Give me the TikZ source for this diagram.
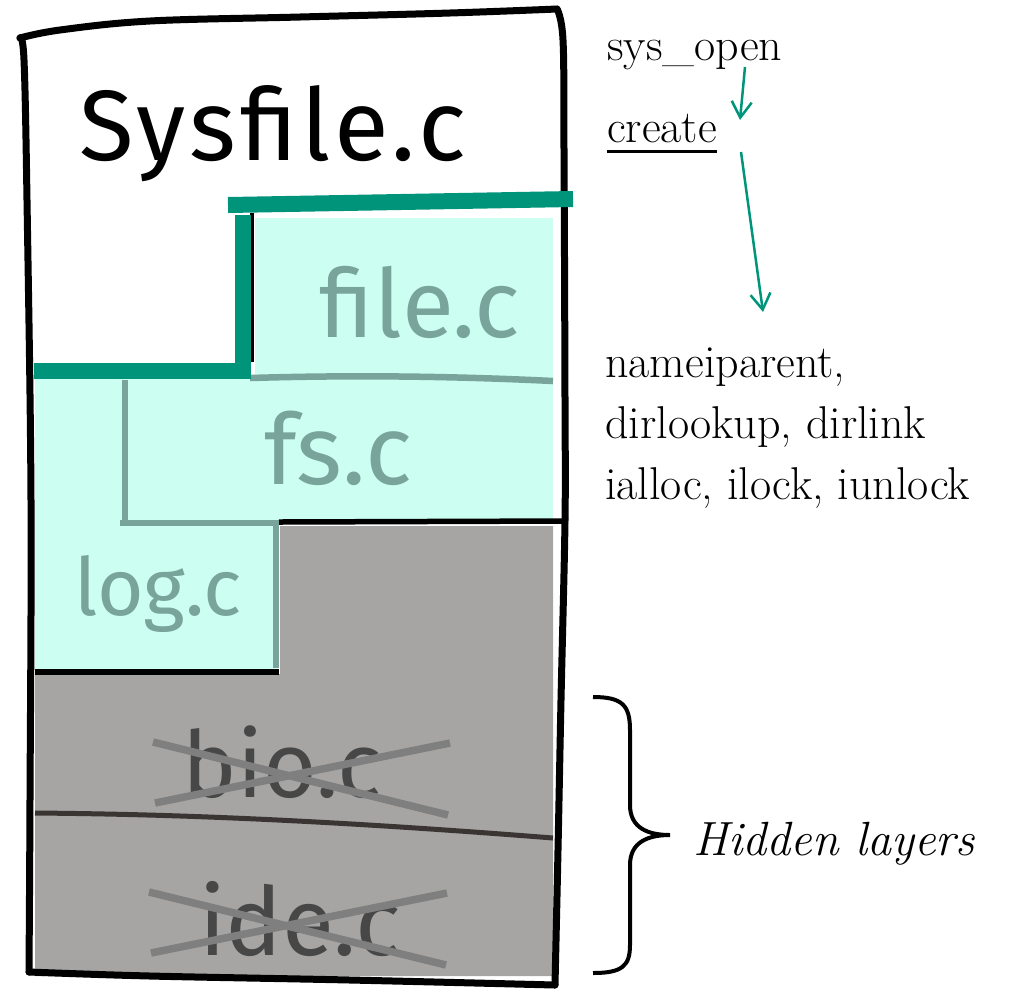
\documentclass[tikz,border=0pt]{standalone}
\usepackage{fontspec}
\newfontfamily\handfont{Fira Sans}
\usetikzlibrary{arrows.meta}
\definecolor{tealline}{HTML}{00947A}
\definecolor{layercyan}{HTML}{CCFEF2}
\definecolor{hiddengray}{HTML}{A6A5A4}
\definecolor{inkteal}{HTML}{78A49B}
\definecolor{inkdark}{HTML}{474747}
\definecolor{crossgray}{HTML}{7F7F7F}
\definecolor{seamdark}{HTML}{3A3532}
\begin{document}
\begin{tikzpicture}[x=1pt,y=-1pt,
  hand/.style={font=\handfont\fontsize{#1}{#1}\selectfont, inner sep=0pt, anchor=base},
  calltext/.style={font=\fontsize{46}{61}\selectfont, inner sep=0pt, anchor=base west},
  boxline/.style={draw=black, line width=7pt, line cap=round, line join=round},
  seam/.style={draw=inkteal, line width=6.5pt},
  blackseam/.style={draw=black, line width=5.5pt},
  tealbar/.style={draw=tealline, line width=16pt},
  crossout/.style={draw=crossgray, line width=7.5pt},
  flow/.style={draw=tealline, line width=2.5pt, -{Straight Barb[length=16pt,width=20pt]}},
]
\useasboundingbox (0,0) rectangle (1027,989);

% layer fills
\fill[layercyan] (255,218) rectangle (553,379);
\fill[layercyan] (35,379) rectangle (553,522);
\fill[layercyan] (35,522) rectangle (278,671);
\fill[hiddengray] (280,526) -- (553,526) -- (553,976) -- (35,976) -- (35,674) -- (280,674) -- cycle;

% seams between layers
\draw[seam] (250,378) .. controls (350,375) and (450,376) .. (553,381);
\draw[seam] (125,380) -- (125,521);
\draw[seam] (120,523) -- (279,523);
\draw[seam] (276,526) -- (276,668);
\draw[blackseam] (279,522) -- (568,521);
\draw[blackseam] (35,672) -- (279,672);
\draw[draw=black, line width=4pt] (252,213) -- (252,362);
\draw[draw=seamdark, line width=5pt] (35,813) .. controls (150,814) and (300,818) .. (553,838);

% outer box
\draw[boxline] plot[smooth, tension=0.6] coordinates {(20,38) (60,30) (150,21) (300,17) (450,13) (557,9)};
\draw[boxline] plot[smooth, tension=0.6] coordinates {(557,9) (563,40) (564,150) (565,400) (565,520) (561,700) (558,850) (555,985)};
\draw[boxline] plot[smooth, tension=0.6] coordinates {(20,38) (24,60) (27,200) (31,500) (30,800) (29,972)};
\draw[boxline] plot[smooth, tension=0.6] coordinates {(29,972) (150,976) (350,980) (555,985)};

% boundary of the layers in use
\draw[tealbar] (228,205) -- (573,199);
\draw[tealbar, line join=miter] (34,371) -- (243,371) -- (243,215);

% handwritten layer names
\node[hand=100, font=\handfont\fontsize{100}{100}\selectfont\addfontfeatures{LetterSpace=4}] (sysfile) at (273,160) {Sysfile.c};
\node[hand=95, text=inkteal] (filec) at (420,337) {file.c};
\node[hand=98, text=inkteal] (fsc) at (338,484) {fs.c};
\node[hand=80, text=inkteal] (logc) at (158,615) {log.c};
\node[hand=92, text=inkdark] (bioc) at (282,797) {bio.c};
\node[hand=95, text=inkdark] (idec) at (300,955) {ide.c};

% hidden layers crossed out
\draw[crossout] (153,742) -- (448,815);
\draw[crossout] (155,803) -- (450,743);
\draw[crossout] (149,892) -- (446,965);
\draw[crossout] (151,953) -- (447,893);

% call chain
\node[calltext] (sysopen) at (607,60) {sys\_open};
\node[calltext] (create) at (607,142) {create};
\draw[line width=3pt] ([yshift=-9pt]create.base west) -- ([yshift=-9pt]create.base east);
\node[calltext] (namei) at (605,377) {nameiparent,};
\node[calltext] (dirl) at (605,438) {dirlookup, dirlink};
\node[calltext] (ialloc) at (605,499) {ialloc, ilock, iunlock};
\draw[flow] ([xshift=138pt,yshift=-7pt]sysopen.base west) -- ([xshift=133pt,yshift=22pt]create.base west);
\draw[flow] ([xshift=134pt,yshift=-10pt]create.base west) -- ([xshift=158pt,yshift=65pt]namei.base west);

% brace over the hidden layers
\draw[line width=4pt] (593,697) .. controls (622,697) and (630,705) .. (630,730)
  -- (630,805) .. controls (630,828) and (648,835) .. (670,835)
  .. controls (648,835) and (630,842) .. (630,865)
  -- (630,945) .. controls (630,966) and (622,973) .. (593,973);
\node[calltext, font=\itshape\fontsize{48}{58}\selectfont] (hidden) at (693,855) {Hidden layers};
\end{tikzpicture}
\end{document}
